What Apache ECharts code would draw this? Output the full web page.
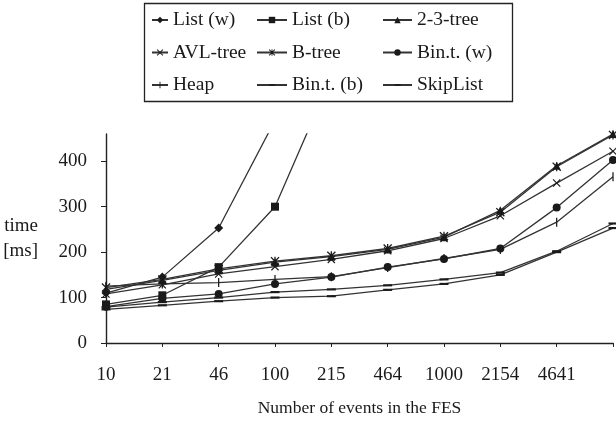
<!DOCTYPE html>
<html><head><meta charset="utf-8">
<script src="https://cdn.jsdelivr.net/npm/echarts@6/dist/echarts.min.js"></script>
<style>html,body{margin:0;padding:0;background:#fff}#c{width:616px;height:422px}</style>
</head><body><div id="c"></div>
<script>
const categories = ['10','21','46','100','215','464','1000','2154','4641','10000'];
const yTicks = [0, 100, 200, 300, 400];
const listW = [110, 145, 253, 490];
const listB = [85, 105, 167, 300, 585];
const tree23 = [118, 138, 160, 178, 190, 206, 233, 292, 390, 460];
const avl = [108, 128, 152, 168, 184, 203, 230, 280, 352, 422];
const btree = [122, 140, 163, 180, 192, 208, 235, 288, 388, 458];
const binW = [80, 98, 108, 130, 145, 167, 185, 208, 298, 403];
const heap = [125, 130, 133, 140, 146, 166, 186, 206, 266, 366];
const binB = [79, 90, 100, 112, 118, 127, 140, 155, 202, 263];
const skip = [74, 83, 92, 100, 103, 117, 130, 150, 200, 253];

const X = 'path://M0,1 L1,0 L5,4 L9,0 L10,1 L6,5 L10,9 L9,10 L5,6 L1,10 L0,9 L4,5 Z';
const AST = 'path://M0,1 L1,0 L5,4 L9,0 L10,1 L6,5 L10,9 L9,10 L5,6 L1,10 L0,9 L4,5 Z M4.3,0 L5.7,0 L5.7,10 L4.3,10 Z';
const VBAR = 'path://M0,0 M10,10 M4.3,0 L5.7,0 L5.7,10 L4.3,10 Z';
const HBAR = 'path://M0,0 M10,10 M0,3.8 L10,3.8 L10,6.2 L0,6.2 Z';
const FONT = 'Liberation Serif';
const INK = '#1a1a1a';

function s(name, data, symbol, size) {
  return {
    name, type: 'line', data, symbol, symbolSize: size, showSymbol: true,
    lineStyle: { color: '#333', width: 1.3 },
    itemStyle: { color: INK },
    emphasis: { disabled: true }, animation: false, clip: true
  };
}
const series = [
  s('List (w)', listW, 'diamond', 9),
  s('List (b)', listB, 'rect', 8),
  s('2-3-tree', tree23, 'triangle', 8),
  s('AVL-tree', avl, X, 8),
  s('B-tree', btree, AST, 9),
  s('Bin.t. (w)', binW, 'circle', 8),
  s('Heap', heap, VBAR, 9),
  s('Bin.t. (b)', binB, HBAR, 9),
  s('SkipList', skip, HBAR, 9)
];
function leg(left, w, names) {
  return {
    orient: 'vertical', left, top: 5, itemWidth: w, itemHeight: 8, itemGap: 12.5,
    data: names, selectedMode: false,
    textStyle: { fontFamily: FONT, fontSize: 19.5, color: INK }
  };
}
const chart = echarts.init(document.getElementById('c'), null, { renderer: 'canvas' });
chart.setOption({
  animation: false,
  backgroundColor: '#fff',
  grid: { left: 106, right: 3, top: 134, bottom: 74, containLabel: false },
  legend: [
    leg(146, 16, ['List (w)', 'AVL-tree', 'Heap']),
    leg(251, 30, ['List (b)', 'B-tree', 'Bin.t. (b)']),
    leg(377, 29, ['2-3-tree', 'Bin.t. (w)', 'SkipList'])
  ],
  graphic: [{ type: 'rect', shape: { x: 144.5, y: 3.5, width: 368, height: 98 },
    style: { fill: 'none', stroke: '#222', lineWidth: 1.3 }, silent: true }],
  xAxis: {
    type: 'category', data: categories, boundaryGap: false,
    name: 'Number of events in the FES', nameLocation: 'middle', nameGap: 56,
    nameTextStyle: { fontFamily: FONT, fontSize: 17.5, color: INK },
    axisLine: { lineStyle: { color: '#222', width: 1.4 } },
    axisTick: { show: true, inside: false, length: 4, lineStyle: { color: '#222' } },
    axisLabel: { fontFamily: FONT, fontSize: 19, color: INK, margin: 23,
      formatter: v => v === '10000' ? '' : v, interval: 0 },
    splitLine: { show: false }
  },
  yAxis: {
    type: 'value', min: 0, max: 460, interval: 100,
    name: 'time\n[ms]', nameLocation: 'middle', nameGap: 68, nameRotate: 0,
    nameTextStyle: { fontFamily: FONT, fontSize: 19, color: INK, lineHeight: 25 },
    axisLine: { show: true, lineStyle: { color: '#222', width: 1.4 } },
    axisTick: { show: true, length: 5, customValues: yTicks, lineStyle: { color: '#222' } },
    axisLabel: { fontFamily: FONT, fontSize: 19, color: INK, margin: 19, customValues: yTicks },
    splitLine: { show: false }
  },
  series
});
</script></body></html>
